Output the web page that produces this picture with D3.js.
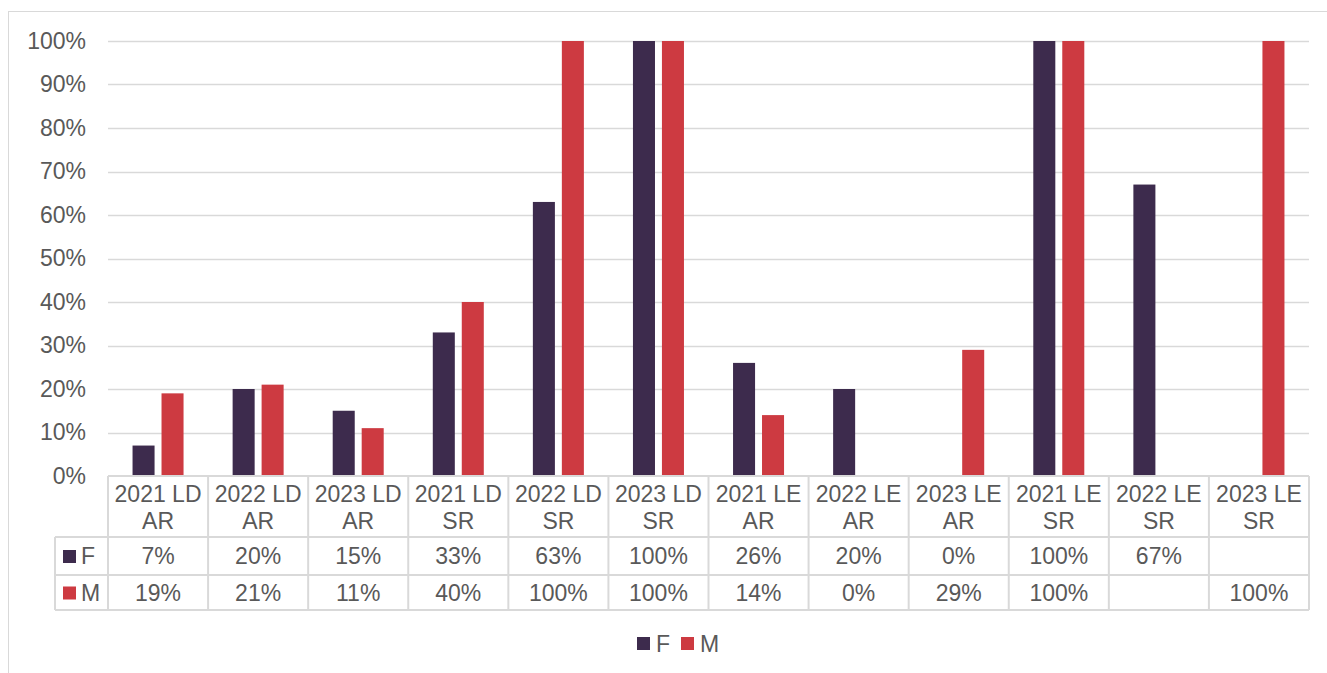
<!DOCTYPE html>
<html>
<head>
<meta charset="utf-8">
<script src="https://cdn.jsdelivr.net/npm/d3@7"></script>
<style>
  body { margin: 0; background: #fff; }
  text { font-family: "Liberation Sans", Arial, sans-serif; fill: #595959; }
</style>
</head>
<body>
<script>
// categories (two-line labels) and series values, in %
var categories = ["2021 LD AR", "2022 LD AR", "2023 LD AR", "2021 LD SR", "2022 LD SR", "2023 LD SR",
                  "2021 LE AR", "2022 LE AR", "2023 LE AR", "2021 LE SR", "2022 LE SR", "2023 LE SR"];
var labelLines = [["2021 LD", "AR"], ["2022 LD", "AR"], ["2023 LD", "AR"], ["2021 LD", "SR"], ["2022 LD", "SR"], ["2023 LD", "SR"],
                  ["2021 LE", "AR"], ["2022 LE", "AR"], ["2023 LE", "AR"], ["2021 LE", "SR"], ["2022 LE", "SR"], ["2023 LE", "SR"]];
var seriesNames = ["F", "M"];
var valuesF = [7, 20, 15, 33, 63, 100, 26, 20, 0, 100, 67, null];
var valuesM = [19, 21, 11, 40, 100, 100, 14, 0, 29, 100, null, 100];
var yTicks = [0, 10, 20, 30, 40, 50, 60, 70, 80, 90, 100];
var colors = { F: "#3d2b4d", M: "#cd3a41" };

var W = 1327, H = 673;
var pLeft = 108, pRight = 1309, pTop = 41, pBottom = 476;
var rowH = [61, 38, 35]; // header, F, M
var keyLeft = 55;
var grid = "#d9d9d9";
var fs = 23;

var svg = d3.select("body").append("svg").attr("width", W).attr("height", H);

// outer chart frame
svg.append("rect").attr("x", 8.5).attr("y", 11.5).attr("width", 1340).attr("height", 700)
  .attr("fill", "none").attr("stroke", grid);

var x = d3.scaleBand().domain(categories).range([pLeft, pRight]);
var bw = x.bandwidth();
var xs = d3.scaleBand().domain(seriesNames).range([bw / 2 - 25.5, bw / 2 + 25.5]).paddingInner(0.24);
var y = d3.scaleLinear().domain([0, 100]).range([pBottom, pTop]);

// gridlines
svg.append("g").selectAll("line").data(yTicks.slice(1)).enter().append("line")
  .attr("x1", pLeft).attr("x2", pRight)
  .attr("y1", d => Math.round(y(d)) + 0.5).attr("y2", d => Math.round(y(d)) + 0.5)
  .attr("stroke", grid).attr("stroke-width", 1.3);

// y axis labels
var yAxis = d3.axisLeft(y).tickValues(yTicks).tickFormat(d => d + "%").tickSize(0).tickPadding(22);
var ya = svg.append("g").attr("transform", "translate(" + pLeft + ",0)").call(yAxis);
ya.select(".domain").remove();
ya.selectAll("text").attr("font-size", fs).attr("fill", "#595959")
  .style("font-family", '"Liberation Sans", Arial, sans-serif');

// bars
var data = [];
categories.forEach(function (c, i) {
  data.push({ cat: c, s: "F", v: valuesF[i] });
  data.push({ cat: c, s: "M", v: valuesM[i] });
});
svg.append("g").selectAll("rect").data(data.filter(d => d.v)).enter().append("rect")
  .attr("x", d => x(d.cat) + xs(d.s))
  .attr("width", xs.bandwidth())
  .attr("y", d => y(d.v))
  .attr("height", d => y(0) - y(d.v))
  .attr("fill", d => colors[d.s]);

// data table
var r0 = pBottom, r1 = r0 + rowH[0], r2 = r1 + rowH[1], r3 = r2 + rowH[2];
var tg = svg.append("g").attr("stroke", grid).attr("stroke-width", 2);
tg.append("line").attr("x1", pLeft).attr("x2", pRight).attr("y1", r0).attr("y2", r0);
[r1, r2, r3].forEach(function (r) {
  tg.append("line").attr("x1", keyLeft).attr("x2", pRight).attr("y1", r).attr("y2", r);
});
categories.concat([null]).forEach(function (c) {
  var xx = c ? x(c) : pRight;
  tg.append("line").attr("x1", xx).attr("x2", xx).attr("y1", r0).attr("y2", r3);
});
tg.append("line").attr("x1", keyLeft).attr("x2", keyLeft).attr("y1", r1).attr("y2", r3);

// header labels
var hdr = svg.append("g").selectAll("text").data(categories).enter().append("text")
  .attr("text-anchor", "middle").attr("font-size", fs)
  .attr("x", d => x(d) + bw / 2);
hdr.append("tspan").attr("x", d => x(d) + bw / 2).attr("y", r0 + 26).text((d, i) => labelLines[i][0]);
hdr.append("tspan").attr("x", d => x(d) + bw / 2).attr("y", r0 + 53).text((d, i) => labelLines[i][1]);

// value rows
[[valuesF, r1, "F"], [valuesM, r2, "M"]].forEach(function (row, k) {
  var vals = row[0], ry = row[1], h = rowH[k + 1];
  svg.append("g").selectAll("text").data(categories).enter().append("text")
    .attr("text-anchor", "middle").attr("font-size", fs)
    .attr("x", d => x(d) + bw / 2).attr("y", ry + h / 2 + 8)
    .text((d, i) => vals[i] == null ? "" : vals[i] + "%");
  svg.append("rect").attr("x", 63).attr("y", ry + h / 2 - 6).attr("width", 13).attr("height", 13)
    .attr("fill", colors[row[2]]);
  svg.append("text").attr("x", 81).attr("y", ry + h / 2 + 8).attr("font-size", fs).text(row[2]);
});

// legend
var lg = svg.append("g").attr("transform", "translate(637,637)");
var items = lg.selectAll("g").data(seriesNames).enter().append("g")
  .attr("transform", (d, i) => "translate(" + (i * 44) + ",0)");
items.append("rect").attr("width", 13).attr("height", 13).attr("fill", d => colors[d]);
items.append("text").attr("x", 19).attr("y", 15).attr("font-size", fs).text(d => d);
</script>
</body>
</html>
